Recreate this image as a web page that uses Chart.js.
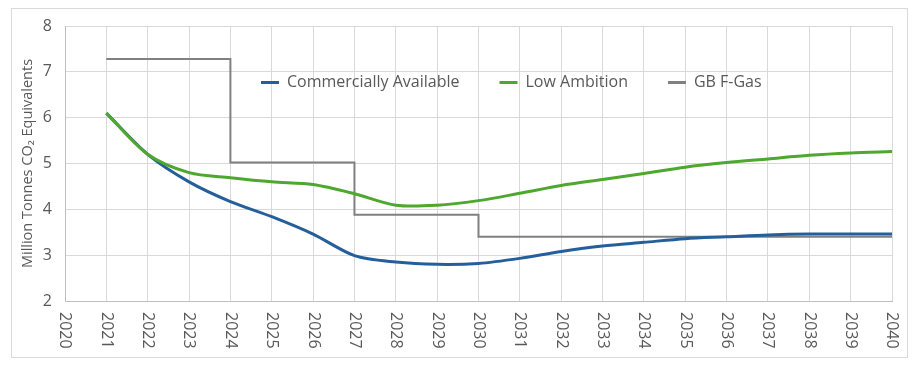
<!DOCTYPE html>
<html>
<head>
<meta charset="utf-8">
<script src="https://cdn.jsdelivr.net/npm/chart.js@4"></script>
<style>
    body { margin: 0; background: #fff; }
    #box {
        position: absolute; left: 11px; top: 8px;
        width: 895px; height: 348px;
        border: 1px solid #d9d9d9;
    }
</style>
</head>
<body>
<div id="box"><canvas id="lineChart"></canvas></div>
<script>
const years = ["2020", "2021", "2022", "2023", "2024", "2025", "2026", "2027", "2028", "2029", "2030",
               "2031", "2032", "2033", "2034", "2035", "2036", "2037", "2038", "2039", "2040"];
const commercial = [null, 6.1, 5.2, 4.6, 4.17, 3.84, 3.46, 2.99, 2.85, 2.8, 2.82,
                    2.93, 3.08, 3.2, 3.28, 3.36, 3.4, 3.44, 3.46, 3.46, 3.46];
const lowAmbition = [null, 6.1, 5.2, 4.8, 4.69, 4.6, 4.54, 4.34, 4.09, 4.09, 4.19,
                     4.35, 4.52, 4.65, 4.78, 4.92, 5.02, 5.1, 5.18, 5.23, 5.26];
const fGas = [null, 7.28, 7.28, 7.28, 5.02, 5.02, 5.02, 3.88, 3.88, 3.88, 3.4,
              3.4, 3.4, 3.4, 3.4, 3.4, 3.4, 3.4, 3.4, 3.4, 3.4];
const yTicks = [2, 3, 4, 5, 6, 7, 8];

const FONT = "'Open Sans', sans-serif";
const TEXT = "#595959";
Chart.defaults.font.family = FONT;
Chart.defaults.color = TEXT;

// legend sits inside the plot, like the excel one
const legendInside = {
    id: "legendInside",
    afterLayout(chart) {
        const lg = chart.legend, a = chart.chartArea, p = lg.options.labels.padding;
        lg.left = a.left + 196 - p;
        lg.right = lg.left + 720;
        lg.top = a.top + 56.5 - 8 - p;
        lg.bottom = lg.top + 2 * p + 20;
    }
};

// x labels read top to bottom (rotated clockwise)
const yearLabels = {
    id: "yearLabels",
    afterDraw(chart) {
        const ctx = chart.ctx, x = chart.scales.x;
        ctx.save();
        ctx.font = "16px " + FONT;
        ctx.fillStyle = TEXT;
        ctx.textAlign = "left";
        ctx.textBaseline = "middle";
        x.ticks.forEach((t, i) => {
            ctx.save();
            ctx.translate(x.getPixelForTick(i), x.top + 11);
            ctx.rotate(Math.PI / 2);
            ctx.fillText(years[t.value], 0, 0);
            ctx.restore();
        });
        ctx.restore();
    }
};

new Chart(document.getElementById("lineChart"), {
    type: "line",
    data: {
        labels: years,
        datasets: [
            {
                label: "Commercially Available",
                data: commercial,
                borderColor: "#245f9c",
                backgroundColor: "#245f9c",
                borderWidth: 3,
                tension: 0.3,
                order: 2
            },
            {
                label: "Low Ambition",
                data: lowAmbition,
                borderColor: "#4ea72e",
                backgroundColor: "#4ea72e",
                borderWidth: 3,
                tension: 0.3,
                order: 1
            },
            {
                label: "GB F-Gas",
                data: fGas,
                borderColor: "#808080",
                backgroundColor: "#808080",
                borderWidth: 2,
                stepped: true,
                order: 3
            }
        ]
    },
    options: {
        responsive: true,
        maintainAspectRatio: false,
        animation: false,
        events: [],
        layout: {
            padding: {left: 0, right: 15, top: 17, bottom: 0}
        },
        elements: {
            point: {radius: 0}
        },
        scales: {
            x: {
                ticks: {display: false},
                grid: {color: "#d9d9d9", drawTicks: false},
                border: {color: "#bfbfbf"},
                afterFit: s => { s.height = 56; }
            },
            y: {
                min: 2,
                max: 8,
                afterBuildTicks: s => { s.ticks = yTicks.map(v => ({value: v})); },
                ticks: {font: {size: 16}, padding: 13, color: TEXT},
                grid: {color: "#d9d9d9", drawTicks: false},
                border: {color: "#bfbfbf"},
                title: {
                    display: true,
                    text: "Million Tonnes CO\u2082 Equivalents",
                    font: {size: 14.5},
                    color: TEXT,
                    padding: {top: 7, bottom: 0}
                },
                afterFit: s => { s.width = 53; s.paddingTop = 0; s.paddingBottom = 0; }
            }
        },
        plugins: {
            legend: {
                position: "top",
                align: "start",
                maxHeight: 0.001,
                labels: {
                    font: {size: 16},
                    color: TEXT,
                    boxWidth: 18,
                    boxHeight: 3,
                    padding: 40,
                    sort: (a, b) => a.datasetIndex - b.datasetIndex,
                    generateLabels: chart =>
                        Chart.defaults.plugins.legend.labels.generateLabels(chart)
                            .map(l => Object.assign(l, {lineWidth: 0}))
                }
            },
            tooltip: {enabled: false}
        }
    },
    plugins: [legendInside, yearLabels]
});
</script>
</body>
</html>
